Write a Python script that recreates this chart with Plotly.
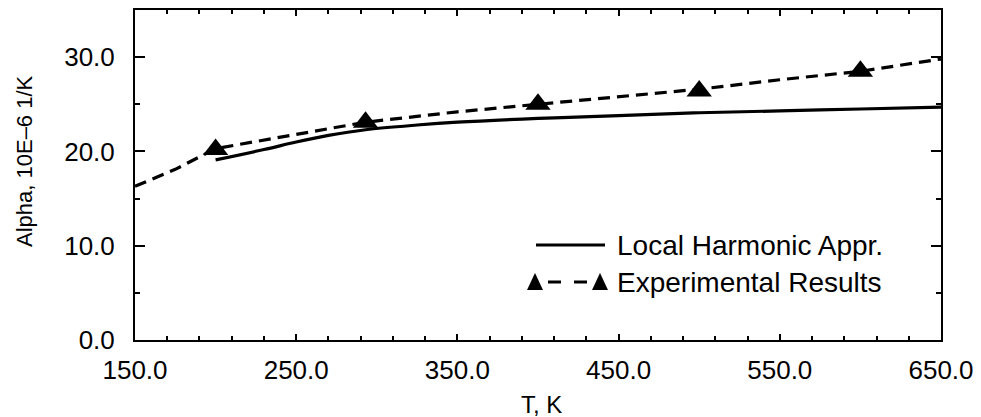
import plotly.graph_objects as go

# ---- data ----
harm_T = [200, 230, 250, 270, 293, 325, 350, 400, 450, 500, 550, 600, 650]
harm_alpha = [19.1, 20.2, 21.0, 21.7, 22.3, 22.8, 23.1, 23.5, 23.8, 24.1, 24.3, 24.5, 24.7]

exp_curve_T = [150, 175, 200, 250, 293, 350, 400, 450, 500, 550, 600, 650]
exp_curve_alpha = [16.3, 18.1, 20.3, 21.8, 23.1, 24.2, 25.0, 25.8, 26.6, 27.6, 28.5, 29.8]

exp_T = [200, 293, 400, 500, 600]
exp_alpha = [20.2, 23.1, 25.0, 26.4, 28.5]

x_ticks = [150, 250, 350, 450, 550, 650]
x_labels = ["150.0", "250.0", "350.0", "450.0", "550.0", "650.0"]
y_ticks = [0, 10, 20, 30]
y_labels = ["0.0", "10.0", "20.0", "30.0"]

legend_names = ["Local Harmonic Appr.", "Experimental Results"]

FONT = "Liberation Sans, Arial, sans-serif"
OFF = 8  # default body margin of the page
W, H = 981 - OFF, 417 - OFF
L, R, T, B = 135 - OFF, 40, 10 - OFF, 77
PW, PH = W - L - R, H - T - B


def px(x):
    return (x - OFF - L) / PW


def py(y):
    return (H + OFF - B - y) / PH


fig = go.Figure()
fig.add_trace(go.Scatter(x=harm_T, y=harm_alpha, mode="lines", line=dict(color="black", width=3.2, shape="spline"),
                         name=legend_names[0], showlegend=False))
fig.add_trace(go.Scatter(x=exp_curve_T, y=exp_curve_alpha, mode="lines",
                         line=dict(color="black", width=3.2, dash="12px,7px"),
                         name=legend_names[1], showlegend=False))
fig.add_trace(go.Scatter(x=exp_T, y=exp_alpha, mode="markers",
                         marker=dict(symbol="triangle-up", size=22, color="black"),
                         name=legend_names[1], showlegend=False))

axis_common = dict(showline=True, linecolor="black", linewidth=2, mirror="ticks", ticks="inside",
                   tickcolor="black", showgrid=False, zeroline=False, automargin=False,
                   tickfont=dict(family=FONT, size=26, color="black"))

fig.update_xaxes(range=[150, 650], tickmode="array", tickvals=x_ticks, ticktext=x_labels,
                 ticklen=6, tickwidth=1.5, ticklabelstandoff=6,
                 minor=dict(tickmode="linear", tick0=150, dtick=20, ticks="inside", ticklen=4, tickcolor="black", tickwidth=1.5),
                 **axis_common)
fig.update_yaxes(range=[0, 35], tickmode="array", tickvals=y_ticks, ticktext=y_labels,
                 ticklen=10, tickwidth=1.5, ticklabelstandoff=13,
                 minor=dict(tickmode="linear", tick0=0, dtick=5, ticks="inside", ticklen=5, tickcolor="black", tickwidth=1.5),
                 **axis_common)

# manual legend (paper coordinates)
shapes = [
    dict(type="line", xref="paper", yref="paper", x0=px(536), x1=px(605), y0=py(245), y1=py(245),
         line=dict(color="black", width=3)),
    dict(type="line", xref="paper", yref="paper", x0=px(548), x1=px(590), y0=py(282), y1=py(282),
         line=dict(color="black", width=3, dash="13px,13px")),
]
for cx in (535, 600):
    cy = 282
    shapes.append(dict(type="path", xref="paper", yref="paper",
                       path=f"M {px(cx-8)} {py(cy+8)} L {px(cx+8)} {py(cy+8)} L {px(cx)} {py(cy-9)} Z",
                       fillcolor="black", line=dict(color="black", width=0)))

annotations = [
    dict(text=legend_names[0], xref="paper", yref="paper", x=px(615), y=py(245), xanchor="left", yanchor="middle",
         showarrow=False, font=dict(family=FONT, size=28, color="black")),
    dict(text=legend_names[1], xref="paper", yref="paper", x=px(615), y=py(282), xanchor="left", yanchor="middle",
         showarrow=False, font=dict(family=FONT, size=28, color="black")),
    dict(text="Alpha, 10E\u20136 1/K", xref="paper", yref="paper", x=px(25), y=py(161), xanchor="center",
         yanchor="middle", textangle=-90, showarrow=False, font=dict(family=FONT, size=22, color="black")),
    dict(text="T, K", xref="paper", yref="paper", x=px(541), y=py(404), xanchor="center", yanchor="middle",
         showarrow=False, font=dict(family=FONT, size=24, color="black")),
]

fig.update_layout(width=W, height=H, margin=dict(l=L, r=R, t=T, b=B), plot_bgcolor="white", paper_bgcolor="white",
                  showlegend=False, shapes=shapes, annotations=annotations)

fig.write_html("out.html")
